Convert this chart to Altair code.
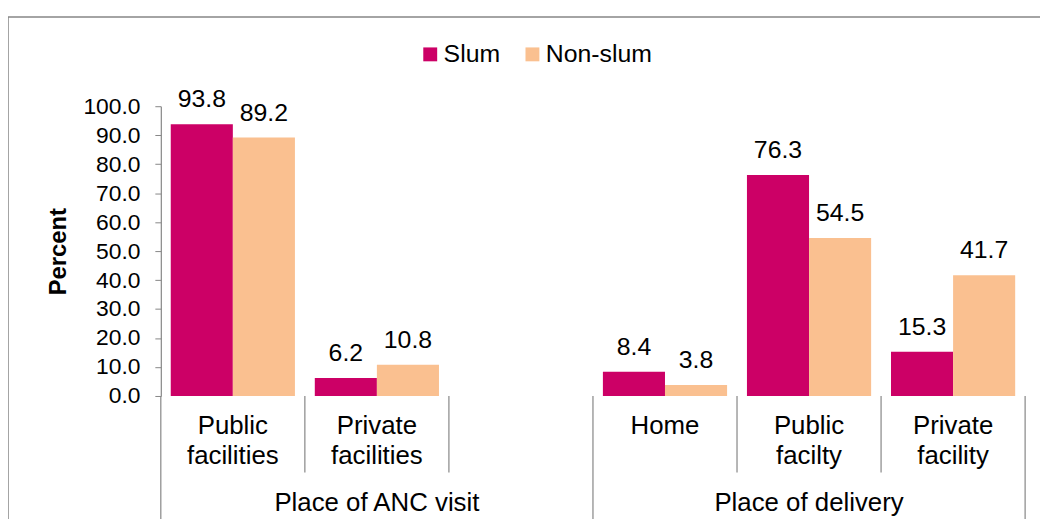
import altair as alt
import pandas as pd

# ---- data ----
cat_keys = ["pub_anc", "priv_anc", "gap", "home", "pub_del", "priv_del"]
cat_labels = ["Public\nfacilities", "Private\nfacilities", "", "Home", "Public\nfacilty", "Private\nfacility"]
series = ["Slum", "Non-slum"]
slum_vals = [93.8, 6.2, None, 8.4, 76.3, 15.3]
nonslum_vals = [89.2, 10.8, None, 3.8, 54.5, 41.7]
groups = ["Place of ANC visit", "Place of delivery"]
group_center_keys = ["priv_anc", "pub_del"]
minor_sep_keys = ["priv_anc", "gap", "pub_del", "priv_del"]
major_sep_start_keys = ["pub_anc", "home"]
major_sep_end_keys = ["priv_del"]
y_ticks = [0, 10, 20, 30, 40, 50, 60, 70, 80, 90, 100]
colors = ["#CC0066", "#FAC090"]

rows = []
for k, s, n in zip(cat_keys, slum_vals, nonslum_vals):
    if s is not None:
        rows.append({"cat": k, "series": "Slum", "value": s})
        rows.append({"cat": k, "series": "Non-slum", "value": n})
bars_df = pd.DataFrame(rows)
labels_df = pd.DataFrame({"cat": cat_keys, "label": cat_labels})
groups_df = pd.DataFrame({"cat": group_center_keys, "label": groups})
minor_df = pd.DataFrame({"cat": minor_sep_keys})
major_start_df = pd.DataFrame({"cat": major_sep_start_keys})
major_end_df = pd.DataFrame({"cat": major_sep_end_keys})

FONT = "Liberation Sans"
GRAY = "#868686"
FS_TICK = 23
FS_CAT = 26
FS_VAL = 25
FS_LEG = 25
FS_TITLE = 24

xscale = alt.Scale(domain=cat_keys, paddingInner=0, paddingOuter=0)
yscale = alt.Scale(domain=[0, 100], nice=False)
offscale = alt.Scale(domain=series, paddingOuter=0.16, paddingInner=0)

y_axis = alt.Axis(values=y_ticks, tickCount=11, format=".1f", title="Percent", grid=False,
                  labelOverlap=False, labelFlush=False,
                  tickSize=6, tickColor=GRAY, domainColor=GRAY, domainWidth=1.2,
                  labelFontSize=FS_TICK, labelColor="black", labelPadding=15,
                  titleFontSize=FS_TITLE, titleFontWeight="bold", titleColor="black",
                  titlePadding=12)

x_plain = alt.X("cat:N", scale=xscale, axis=None)

bars = alt.Chart(bars_df).mark_bar().encode(
    x=alt.X("cat:N", scale=xscale,
            axis=alt.Axis(labels=False, ticks=False, title=None, domainColor=GRAY, domainWidth=1.2)),
    xOffset=alt.XOffset("series:N", scale=offscale, sort=series),
    y=alt.Y("value:Q", scale=yscale, axis=y_axis),
    color=alt.Color("series:N", sort=series,
                    scale=alt.Scale(domain=series, range=colors),
                    legend=alt.Legend(orient="none", legendX=259, legendY=-65, direction="horizontal",
                                      title=None, symbolType="square", symbolSize=196,
                                      symbolStrokeWidth=0, labelFontSize=FS_LEG, labelColor="black",
                                      labelOffset=1, columnPadding=20, padding=0)),
)

values = alt.Chart(bars_df).mark_text(fontSize=FS_VAL, baseline="alphabetic", dy=-17, color="black").encode(
    x=x_plain,
    xOffset=alt.XOffset("series:N", scale=offscale, sort=series),
    y=alt.Y("value:Q", scale=yscale, axis=y_axis),
    text=alt.Text("value:Q", format=".1f"),
)

cat_text = alt.Chart(labels_df).mark_text(fontSize=FS_CAT, baseline="alphabetic", lineBreak="\n",
                                          lineHeight=31, color="black").encode(
    x=x_plain, y=alt.value(330), text="label:N")

group_text = alt.Chart(groups_df).mark_text(fontSize=FS_CAT, baseline="alphabetic", color="black").encode(
    x=x_plain, y=alt.value(408), text="label:N")

minor = alt.Chart(minor_df).mark_rule(color=GRAY, strokeWidth=1.2).encode(
    x=alt.X("cat:N", scale=xscale, axis=None, bandPosition=0), y=alt.value(292), y2=alt.value(369))

major_start = alt.Chart(major_start_df).mark_rule(color=GRAY, strokeWidth=1.2).encode(
    x=alt.X("cat:N", scale=xscale, axis=None, bandPosition=0), y=alt.value(292), y2=alt.value(460))

major_end = alt.Chart(major_end_df).mark_rule(color=GRAY, strokeWidth=1.2).encode(
    x=alt.X("cat:N", scale=xscale, axis=None, bandPosition=1), y=alt.value(292), y2=alt.value(460))

border = alt.Chart(pd.DataFrame({"cat": ["pub_anc"]})).mark_rect(
    fill="white", fillOpacity=0, stroke=GRAY, strokeWidth=1.5).encode(
    x=alt.value(-154), x2=alt.value(1000), y=alt.value(-90), y2=alt.value(600))

chart = alt.layer(border, bars, values, minor, major_start, major_end, cat_text, group_text).properties(
    width=871, height=292,
    autosize=alt.AutoSizeParams(type="none"),
    padding={"left": 154, "top": 97, "right": 15, "bottom": 122},
).configure(font=FONT).configure_view(strokeWidth=0)

chart.save("out.html", embed_options={"renderer": "svg", "actions": False})
